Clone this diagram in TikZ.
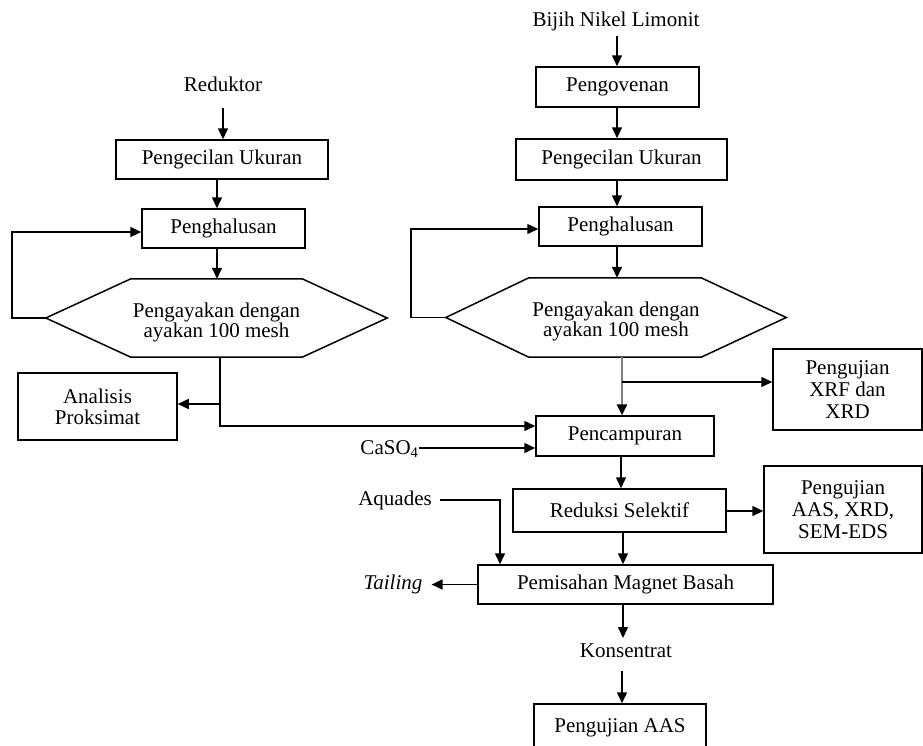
\documentclass[tikz,border=0pt]{standalone}
\usepackage{fontspec}
\setmainfont{Liberation Serif}
\usetikzlibrary{arrows.meta,calc}
\newcommand\figfs{\fontsize{21}{22}\selectfont}
\newcommand\hexfs{\fontsize{21}{20}\selectfont}
\begin{document}
\begin{tikzpicture}[x=1pt,y=-1pt,
  line/.style={line width=1.5pt, black},
  arr/.style={line, -{Triangle[length=11pt,width=10pt]}},
  garr/.style={line width=2.6pt, black!50, -{Triangle[length=11pt,width=10pt,color=black,fill=black]}},
  box/.style={draw, line width=1.5pt, rectangle, inner sep=0pt, align=center, font=\figfs},
  hexbox/.style={draw=none, inner sep=0pt, align=center, font=\hexfs},
  txt/.style={inner sep=0pt, anchor=base, font=\figfs}]
\useasboundingbox (0,0) rectangle (923,745);
\fill[white] (0,0) rectangle (923,745);

% ---------- left column ----------
\node[txt] (redL) at (223,91) {Reduktor};
\node[box, minimum width=212pt, minimum height=39pt] (pu1) at (222,159.5) {Pengecilan Ukuran};
\node[box, minimum width=163pt, minimum height=39pt] (ph1) at (223.5,228.5) {Penghalusan};
\node[hexbox, minimum width=341pt, minimum height=78pt] (hex1) at (216.5,318) {\rule{0pt}{23pt}Pengayakan dengan\\ayakan 100 mesh};
\draw[line] (hex1.west) -- ([xshift=85pt]hex1.north west) -- ([xshift=-85pt]hex1.north east) -- (hex1.east)
  -- ([xshift=-85pt]hex1.south east) -- ([xshift=85pt]hex1.south west) -- cycle;
\node[box, minimum width=159pt, minimum height=67pt, font=\fontsize{21}{21}\selectfont] (ap) at (97.5,406.5) {Analisis\\Proksimat};

% ---------- right column ----------
\node[txt] (bij) at (616,26) {Bijih Nikel Limonit};
\node[box, minimum width=163pt, minimum height=40pt] (ov) at (617.5,87) {Pengovenan};
\node[box, minimum width=211pt, minimum height=41pt] (pu2) at (621.5,159.5) {Pengecilan Ukuran};
\node[box, minimum width=163pt, minimum height=39pt] (ph2) at (620.5,226.5) {Penghalusan};
\node[hexbox, minimum width=340pt, minimum height=79pt] (hex2) at (616,317.5) {\rule{0pt}{23pt}Pengayakan dengan\\ayakan 100 mesh};
\draw[line] (hex2.west) -- ([xshift=83pt]hex2.north west) -- ([xshift=-85pt]hex2.north east) -- (hex2.east)
  -- ([xshift=-85pt]hex2.south east) -- ([xshift=83pt]hex2.south west) -- cycle;
\node[box, minimum width=149pt, minimum height=81pt] (xrf) at (847.5,389.5) {Pengujian\\XRF dan\\XRD};
\node[box, minimum width=178pt, minimum height=40pt] (mix) at (625,436) {Pencampuran};
\node[box, minimum width=213pt, minimum height=43pt] (red) at (619.5,510.5) {Reduksi Selektif};
\node[box, minimum width=158pt, minimum height=87pt] (aas1) at (843,509.5) {Pengujian\\AAS, XRD,\\SEM-EDS};
\node[box, minimum width=295pt, minimum height=39pt] (mag) at (625.5,584.5) {Pemisahan Magnet Basah};
\node[txt] (kons) at (626,657) {Konsentrat};
\node[box, minimum width=172pt, minimum height=48pt] (aas2) at (620,728) {Pengujian AAS};

\node[txt] (caso) at (389.5,454) {CaSO\textsubscript{4}};
\node[txt] (aq) at (395,505) {Aquades};
\node[txt] (tail) at (393,589) {\itshape Tailing};

% ---------- helper coordinates ----------
\coordinate (cL) at (217,0);
\coordinate (loopL) at (12,0);
\coordinate (jL) at (220,404);
\coordinate (cR) at (617,0);
\coordinate (loopR) at (411,0);
\coordinate (jR) at (622,382);
\coordinate (aqx) at (500,0);

% ---------- left connectors ----------
\draw[arr] ([yshift=-17pt]redL.base) -- (redL.base |- pu1.north);
\draw[arr] (pu1.south -| cL) -- (ph1.north -| cL);
\draw[arr] (ph1.south -| cL) -- (hex1.north -| cL);
\draw[arr] (hex1.west) -- (hex1.west -| loopL) |- ([yshift=-3.5pt]ph1.west);
\draw[arr] (hex1.south -| jL) |- ([yshift=10pt]mix.west);
\draw[arr] (jL) -- (jL -| ap.east);

% ---------- right connectors ----------
\draw[arr] ([yshift=-10pt]bij.base -| cR) -- (ov.north -| cR);
\draw[arr] (ov.south -| cR) -- (pu2.north -| cR);
\draw[arr] (pu2.south -| cR) -- (ph2.north -| cR);
\draw[arr] (ph2.south -| cR) -- (hex2.north -| cR);
\draw[arr] (hex2.west) -- (hex2.west -| loopR) |- ([yshift=-2.5pt]ph2.west);
\draw[garr] (hex2.south -| jR) -- (mix.north -| jR);
\draw[arr] (jR) -- (jR -| xrf.west);
\draw[arr] ([yshift=6pt]caso.base east) -- ([yshift=6pt]caso.base east -| mix.west);
\draw[arr] (mix.south -| 621,0) -- (red.north -| 621,0);
\draw[arr] ([yshift=-0.5pt]red.east) -- ([yshift=-0.5pt]red.east -| aas1.west);
\draw[arr] ([xshift=8pt,yshift=5pt]aq.base east) -| (mag.north -| aqx);
\draw[arr] (red.south -| 623,0) -- (mag.north -| 623,0);
\draw[arr] (mag.west) -- ([xshift=9pt]mag.west -| tail.base east);
\draw[arr] (mag.south -| 623,0) -- ([yshift=19pt]kons.base -| 623,0);
\draw[arr] ([yshift=-14pt]kons.base -| 622,0) -- (aas2.north -| 622,0);
\end{tikzpicture}
\end{document}
